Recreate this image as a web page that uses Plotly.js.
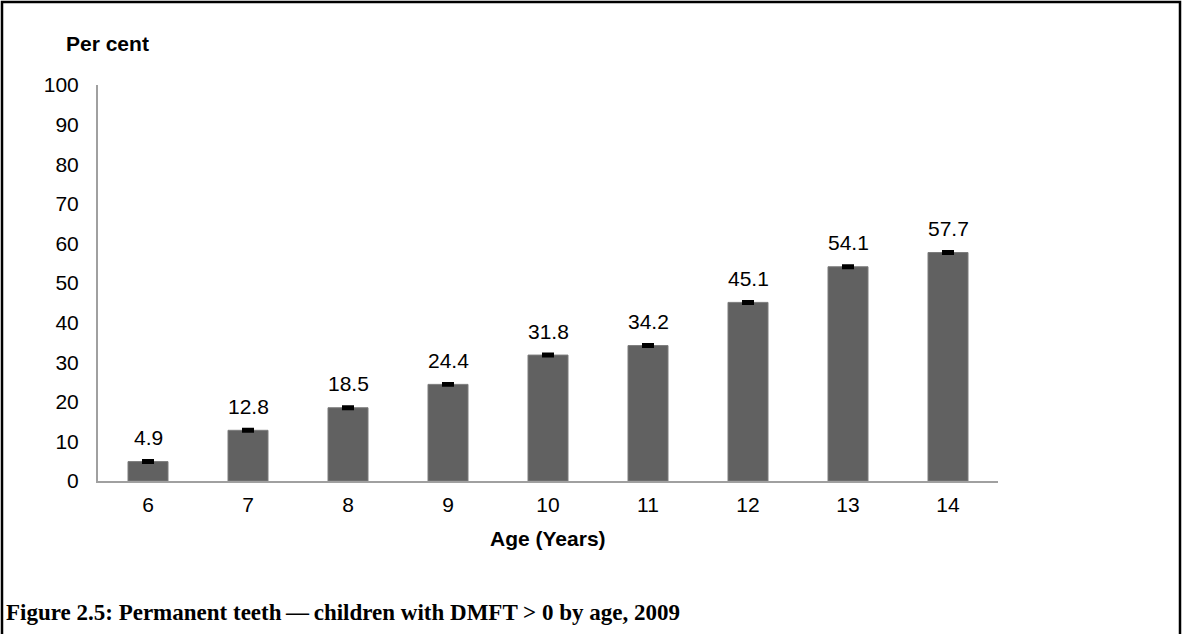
<!DOCTYPE html>
<html>
<head>
<meta charset="utf-8">
<script src="https://cdn.plot.ly/plotly-3.0.1.min.js"></script>
<style>
html,body{margin:0;padding:0;background:#fff;}
#chart{width:1182px;height:634px;}
</style>
</head>
<body>
<div id="chart"></div>
<script>
const ages = [6, 7, 8, 9, 10, 11, 12, 13, 14];
const percents = [4.9, 12.8, 18.5, 24.4, 31.8, 34.2, 45.1, 54.1, 57.7];
const errors = [0.3, 0.3, 0.3, 0.3, 0.3, 0.3, 0.3, 0.3, 0.3];
const yTicks = [0,10,20,30,40,50,60,70,80,90,100];

const L = 98, R = 998, T = 85, B = 481, W = 1182, H = 634;
const pw = R - L, ph = B - T;
const px = x => (x - L) / pw;
const py = y => (B - y) / ph;

const trace = {
  type: 'bar',
  x: ages,
  y: percents,
  width: 0.4,
  marker: {color: '#616161', line: {color: '#7c7c7c', width: 1}},
  error_y: {type: 'data', array: errors, visible: true, color: '#000000', thickness: 2.6, width: 6},
  hoverinfo: 'x+y',
  showlegend: false
};

const labelAnns = ages.map((a, i) => ({
  x: a, y: percents[i], xref: 'x', yref: 'y',
  text: percents[i].toFixed(1), showarrow: false,
  yanchor: 'middle', yshift: 24,
  font: {family: 'Liberation Sans, Arial, sans-serif', size: 21, color: '#000'}
}));

const layout = {
  width: W, height: H,
  margin: {l: L, r: W - R, t: T, b: H - B},
  paper_bgcolor: '#ffffff',
  plot_bgcolor: '#ffffff',
  font: {family: 'Liberation Sans, Arial, sans-serif', size: 21, color: '#000'},
  xaxis: {
    range: [ages[0] - 0.5, ages[ages.length - 1] + 0.5],
    tickvals: ages,
    ticktext: ages.map(String),
    showline: true, linecolor: '#a0a0a0', linewidth: 2,
    showgrid: false, zeroline: false, ticks: '',
    ticklabelstandoff: 4,
    tickfont: {size: 21},
    fixedrange: true
  },
  yaxis: {
    range: [0, 100],
    tickvals: yTicks,
    ticktext: yTicks.map(String),
    showline: true, linecolor: '#a0a0a0', linewidth: 2,
    showgrid: false, zeroline: false, ticks: '',
    ticklabelstandoff: 13,
    tickfont: {size: 21},
    fixedrange: true
  },
  annotations: labelAnns.concat([
    {xref: 'paper', yref: 'paper', x: px(107), y: py(43), text: '<b>Per cent</b>',
     showarrow: false, xanchor: 'center', yanchor: 'middle',
     font: {family: 'Liberation Sans, Arial, sans-serif', size: 21, color: '#000'}},
    {xref: 'paper', yref: 'paper', x: px(548), y: py(538), text: '<b>Age (Years)</b>',
     showarrow: false, xanchor: 'center', yanchor: 'middle',
     font: {family: 'Liberation Sans, Arial, sans-serif', size: 21, color: '#000'}},
    {xref: 'paper', yref: 'paper', x: px(4), y: py(612), text: '<b>Figure 2.5: Permanent teeth\u2009\u2014\u2009children with DMFT &gt; 0 by age, 2009</b>',
     showarrow: false, xanchor: 'left', yanchor: 'middle',
     font: {family: 'Liberation Serif, Times New Roman, serif', size: 23, color: '#000'}}
  ]),
  shapes: [
    {type: 'rect', xref: 'paper', yref: 'paper',
     x0: px(2), x1: px(1180), y0: py(660), y1: py(2),
     line: {color: '#000', width: 2.5}, fillcolor: 'rgba(0,0,0,0)'}
  ]
};

Plotly.newPlot('chart', [trace], layout, {displayModeBar: false, staticPlot: true});
</script>
</body>
</html>
